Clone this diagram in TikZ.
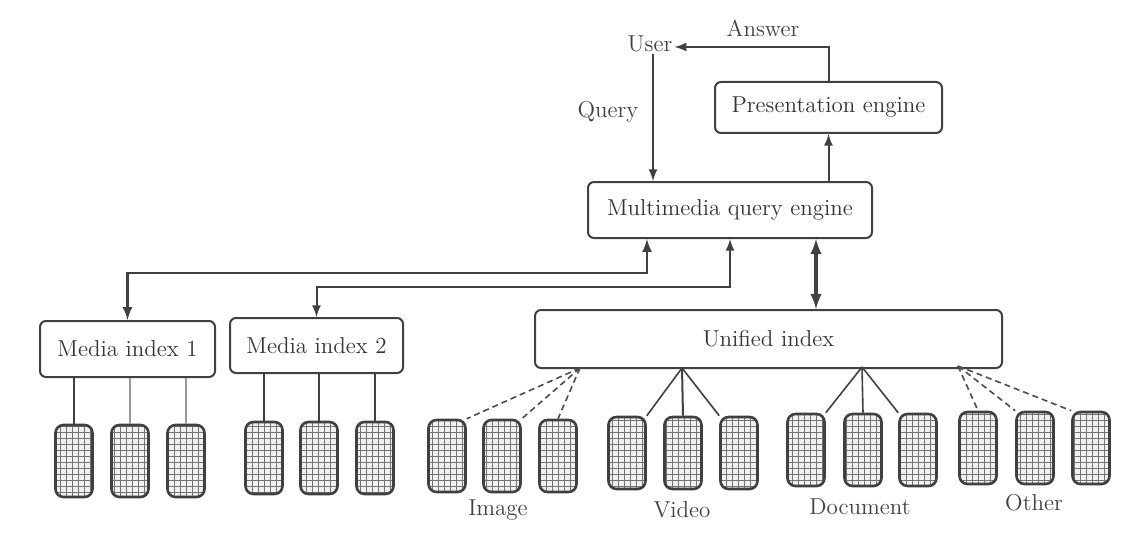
\documentclass[tikz,border=0pt]{standalone}
\usepackage{amsmath}
\usepackage{tikz}
\usepackage{color}
\usetikzlibrary{patterns}

\begin{document}
\begin{tikzpicture}[x=0.5pt,y=-0.5pt,
	font=\fontsize{11.5}{14}\selectfont,
	box/.style={draw=black!75, line width=1, rounded corners=3pt, inner sep=0, text=black!80},
	disk/.style={draw=black!75, line width=1.3, rounded corners=4pt, inner sep=0,
		minimum width=18.5pt, minimum height=36pt,
		preaction={fill=black!6}, pattern=grid, pattern color=black!55},
	lbl/.style={text=black!75, inner sep=1pt}]
	\useasboundingbox (0,0) rectangle (1129,540);

	% boxes
	\node[box, minimum width=113.5pt, minimum height=25.5pt] (pres) at (828.5,107.5) {Presentation engine};
	\node[box, minimum width=142pt, minimum height=28pt] (query) at (730,210) {Multimedia query engine};
	\node[box, minimum width=87.5pt, minimum height=28pt] (mi1) at (127.5,349) {Media index 1};
	\node[box, minimum width=86.5pt, minimum height=27.5pt] (mi2) at (316.5,345.5) {Media index 2};
	\node[box, minimum width=233.5pt, minimum height=29pt] (uni) at (768.5,339) {Unified index};

	% texts
	\node[lbl] (user) at (650,44) {User};
	\node[lbl] (ans) at (763,28) {Answer};
	\node[lbl] (qry) at (608,112) {Query};
	\node[lbl] (img) at (498,510) {Image};
	\node[lbl] (vid) at (682,510) {Video};
	\node[lbl] (doc) at (860,507) {Document};
	\node[lbl] (oth) at (1034,503) {Other};

	% disks
	\foreach \n/\x/\y in {1/74/461, 2/130/461, 3/186/461,
		4/264/458, 5/319/458, 6/375/458,
		7/447/456, 8/502/456, 9/558/456,
		10/627/453, 11/683/453, 12/739/453,
		13/806/450, 14/863/450, 15/918/450,
		16/978/448, 17/1035/448, 18/1091/448}
		\node[disk] (c\n) at (\x,\y) {};

	% user side
	\coordinate (ua) at (653,47);
	\draw[line width=1, black!75, -latex] (user.south -| ua) -- (ua |- query.north);
	\draw[line width=1, black!75, -latex] (pres.north) |- (user.east |- ua);
	\draw[line width=1, black!75, -latex] (query.north -| pres) -- (pres.south);

	% index links
	\coordinate (j1) at (647,273);
	\coordinate (j2) at (730,287);
	\coordinate (j3) at (816,260);
	\draw[line width=1.2, black!75, latex-latex] (mi1.north) |- (j1) -- (j1 |- query.south);
	\draw[line width=1, black!75, latex-latex] (mi2.north) |- (j2) -- (j2 |- query.south);
	\draw[line width=1.6, black!75, latex-latex] (uni.north -| j3) -- (query.south -| j3);

	% media index disks
	\draw[line width=1, black!75] (mi1.south -| c1) -- (c1.north);
	\draw[line width=0.6, black!40] (mi1.south -| c2) -- (c2.north);
	\draw[line width=0.6, black!40] (mi1.south -| c3) -- (c3.north);
	\foreach \n in {4,5,6}
		\draw[line width=1, black!75] (mi2.south -| c\n) -- (c\n.north);

	% unified index disks
	\coordinate (oi) at (580,368);
	\coordinate (ov) at (682,368);
	\coordinate (od) at (862,367);
	\coordinate (oo) at (958,366);
	\draw[line width=0.8, black!70, densely dashed] (oi) -- (c7.north east);
	\draw[line width=0.8, black!70, densely dashed] (oi) -- (c8.north east);
	\draw[line width=0.8, black!70, densely dashed] (oi) -- (c9.north);
	\draw[line width=0.8, black!75] (ov) -- (c10.north east);
	\draw[line width=1, black!75] (ov) -- (c11.north);
	\draw[line width=0.8, black!75] (ov) -- (c12.north west);
	\draw[line width=0.8, black!75] (od) -- (c13.north east);
	\draw[line width=0.8, black!75] (od) -- (c14.north);
	\draw[line width=0.8, black!75] (od) -- (c15.north west);
	\draw[line width=0.8, black!70, densely dashed] (oo) -- (c16.north);
	\draw[line width=0.8, black!70, densely dashed] (oo) -- (c17.north west);
	\draw[line width=0.8, black!70, densely dashed] (oo) -- (c18.north west);
\end{tikzpicture}
\end{document}
